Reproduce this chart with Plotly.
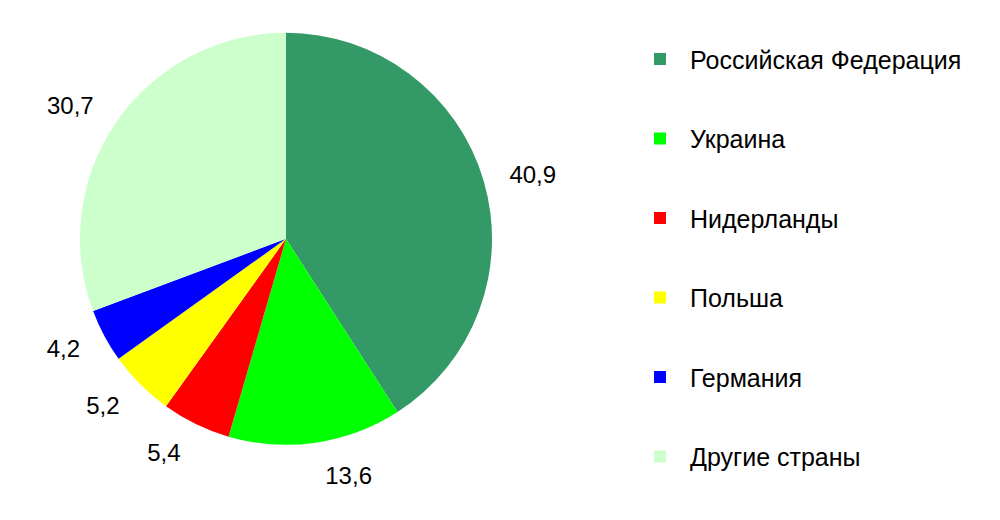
import plotly.graph_objects as go

# data
countries = ["Российская Федерация", "Украина", "Нидерланды", "Польша", "Германия", "Другие страны"]
shares = [40.9, 13.6, 5.4, 5.2, 4.2, 30.7]
colors = ["#339966", "#00FF00", "#FF0000", "#FFFF00", "#0000FF", "#CCFFCC"]

font = dict(family="Liberation Sans, Arial, sans-serif", size=24, color="#000000")
legend_font = dict(family="Liberation Sans, Arial, sans-serif", size=25, color="#000000")

fig = go.Figure()

# wider invisible pie: only carries the outside value labels, so they sit away from the slices
fig.add_trace(go.Pie(
    labels=countries, values=shares, sort=False, direction="clockwise", rotation=0,
    marker=dict(colors=["rgba(0,0,0,0)"] * len(countries), line=dict(width=0)),
    textinfo="value", texttemplate="%{value:.1f}", textposition="outside",
    outsidetextfont=font, showlegend=False, hoverinfo="skip",
    domain=dict(x=[0.05, 0.506], y=[0.1231, 1.0]),
))

# the visible pie
fig.add_trace(go.Pie(
    labels=countries, values=shares, sort=False, direction="clockwise", rotation=0,
    marker=dict(colors=colors, line=dict(width=0)),
    textinfo="none", showlegend=False,
    domain=dict(x=[0.07, 0.486], y=[0.1615, 0.9615]),
))

# legend entries (spaced out like the original)
for name, col in zip(countries, colors):
    fig.add_trace(go.Scatter(
        x=[None], y=[None], mode="markers", name=name, legendgroup=name,
        marker=dict(symbol="square", size=12, color=col),
    ))

fig.update_layout(
    width=1000, height=520,
    margin=dict(l=0, r=0, t=0, b=0),
    paper_bgcolor="white", plot_bgcolor="white",
    separators=", ",
    font=font,
    xaxis=dict(visible=False), yaxis=dict(visible=False),
    legend=dict(x=0.622, y=0.955, xanchor="left", yanchor="top", itemwidth=50,
                tracegroupgap=44, font=legend_font, itemclick=False, itemdoubleclick=False),
)

fig.write_html("out.html")
